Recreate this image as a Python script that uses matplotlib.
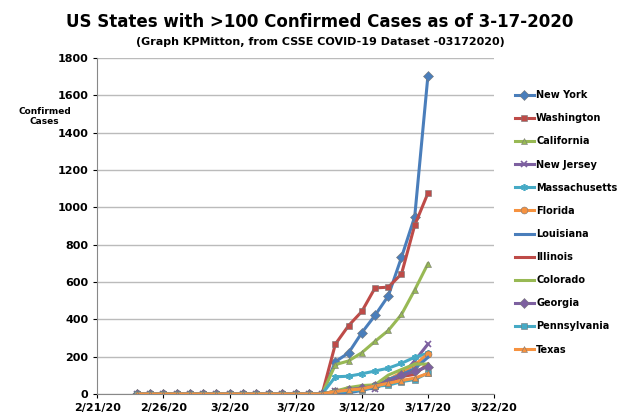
import datetime as dt

import matplotlib
matplotlib.use("Agg")
from matplotlib import pyplot as plt

start = dt.date(2020, 2, 24)
dates = [start + dt.timedelta(days=i) for i in range(23)]  # 2/24 .. 3/17
zeros = [0] * 15  # 2/24 .. 3/9

states = ["New York", "Washington", "California", "New Jersey", "Massachusetts", "Florida",
          "Louisiana", "Illinois", "Colorado", "Georgia", "Pennsylvania", "Texas"]
new_york = zeros + [173, 220, 328, 421, 525, 732, 950, 1706]
washington = zeros + [267, 366, 442, 568, 572, 643, 904, 1076]
california = zeros + [157, 177, 221, 282, 340, 426, 557, 698]
new_jersey = zeros + [15, 23, 29, 29, 69, 98, 178, 267]
massachusetts = zeros + [92, 95, 108, 123, 138, 164, 197, 218]
florida = zeros + [15, 28, 35, 50, 76, 115, 155, 216]
louisiana = zeros + [6, 6, 19, 36, 77, 103, 136, 196]
illinois = zeros + [12, 25, 32, 46, 64, 93, 105, 161]
colorado = zeros + [15, 34, 45, 49, 101, 131, 160, 160]
georgia = zeros + [12, 23, 31, 42, 66, 99, 121, 146]
pennsylvania = zeros + [12, 16, 22, 41, 47, 66, 77, 112]
texas = zeros + [13, 21, 27, 43, 57, 72, 85, 110]
series = [new_york, washington, california, new_jersey, massachusetts, florida,
          louisiana, illinois, colorado, georgia, pennsylvania, texas]

colors = ["#4A7EBB", "#BE4B48", "#98B954", "#7D60A0", "#46AAC5", "#F69240",
          "#4A7EBB", "#BE4B48", "#98B954", "#7D60A0", "#46AAC5", "#F69240"]
markers = ["D", "s", "^", "x", (6, 2, 0), "o", None, None, None, "D", "s", "^"]

fig = plt.figure(figsize=(6.4, 4.2), dpi=100)
ax = fig.add_axes([0.152, 0.062, 0.62, 0.8])
for name, vals, c, m in zip(states, series, colors, markers):
    filled = m in ("D", "s", "^", "o")
    ax.plot(dates, vals, color=c, marker=m, markersize=5, linewidth=2.2,
            markeredgecolor="#777777" if filled else c,
            markeredgewidth=0.4 if filled else 1.2, label=name)

ax.set_xlim(dt.date(2020, 2, 21), dt.date(2020, 3, 22))
ticks = [dt.date(2020, 2, 21) + dt.timedelta(days=5 * i) for i in range(7)]
ax.set_xticks(ticks)
ax.set_xticklabels([f"{d.month}/{d.day}/20" for d in ticks])
ax.set_ylim(0, 1800)
ax.set_yticks(range(0, 1801, 200))
ax.grid(axis="y", color="#BBBBBB", linewidth=1)
ax.set_axisbelow(True)
for s in ["top", "right"]:
    ax.spines[s].set_visible(False)
ax.spines["left"].set_color("#888888")
ax.spines["bottom"].set_color("#888888")
ax.tick_params(labelsize=8, colors="black", length=3)
for lbl in ax.get_yticklabels() + ax.get_xticklabels():
    lbl.set_fontweight("bold")

fig.text(0.5, 0.935, "US States with >100 Confirmed Cases as of 3-17-2020", ha="center",
         fontsize=12, fontweight="bold")
fig.text(0.5, 0.893, "(Graph KPMitton, from CSSE COVID-19 Dataset -03172020)", ha="center",
         fontsize=8, fontweight="bold")
fig.text(0.07, 0.705, "Confirmed\nCases", ha="center", fontsize=6.5, fontweight="bold")

ax.legend(loc="upper left", bbox_to_anchor=(1.03, 0.93), frameon=False,
          prop={"size": 7, "weight": "bold"}, labelspacing=1.35, handlelength=2,
          handletextpad=0.2)
fig.savefig("out.png", dpi=100)
